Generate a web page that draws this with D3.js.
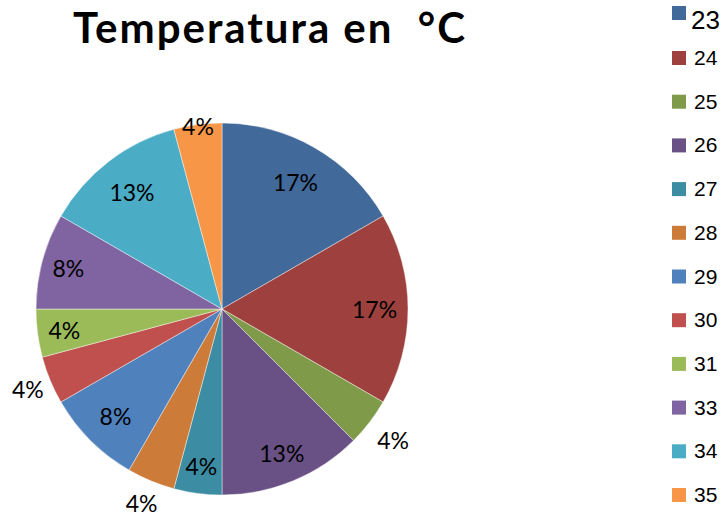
<!DOCTYPE html>
<html>
<head>
<meta charset="utf-8">
<script src="https://cdn.jsdelivr.net/npm/d3@7"></script>
<style>
  html, body { margin: 0; padding: 0; background: #fff; }
  svg { display: block; }
</style>
</head>
<body>
<svg id="chart" width="726" height="517"></svg>
<script>
// ---- data ----
const categories = ["23", "24", "25", "26", "27", "28", "29", "30", "31", "33", "34", "35"];
const counts     = [4, 4, 1, 3, 1, 1, 2, 1, 1, 2, 3, 1];
const colors     = ["#416A9B", "#9E413E", "#7F9A48", "#695185", "#3C8DA3", "#CC7B38",
                    "#4F81BD", "#C0504D", "#9BBB59", "#8064A2", "#4BACC6", "#F79646"];
const titleText  = "Temperatura en \u00A0°C";

// ---- layout (label distance from centre, as a fraction of radius) ----
const labelRadius = [0.79, 0.82, 1.16, 0.84, 0.85, 1.13, 0.81, 1.13, 0.855, 0.855, 0.795, 0.99];

const svg = d3.select("#chart");
const cx = 222, cy = 309, r = 186;

const total = d3.sum(counts);
const pie = d3.pie().sort(null).value(d => d)(counts);
const arc = d3.arc().innerRadius(0).outerRadius(r);

const g = svg.append("g").attr("transform", `translate(${cx},${cy})`);
g.selectAll("path.slice")
  .data(pie)
  .join("path")
  .attr("class", "slice")
  .attr("d", arc)
  .attr("fill", (d, i) => colors[i])
  .attr("stroke", "#ffffff")
  .attr("stroke-width", 0.6)
  .attr("stroke-opacity", 0.7);

g.selectAll("text.lbl")
  .data(pie)
  .join("text")
  .attr("class", "lbl")
  .attr("transform", (d, i) => {
    const a = (d.startAngle + d.endAngle) / 2;
    const rr = r * labelRadius[i];
    return `translate(${rr * Math.sin(a)},${-rr * Math.cos(a)})`;
  })
  .attr("text-anchor", "middle")
  .attr("dominant-baseline", "central")
  .attr("font-family", "Lato, 'Open Sans', sans-serif")
  .attr("font-size", 23)
  .attr("fill", "#000")
  .text(d => Math.round(d.value / total * 100) + "%");

// title
svg.append("text")
  .attr("x", 73)
  .attr("y", 43)
  .attr("font-family", "Lato, 'Open Sans', sans-serif")
  .attr("font-weight", "bold")
  .attr("font-size", 42)
  .attr("fill", "#000")
  .attr("textLength", 392)
  .attr("lengthAdjust", "spacing")
  .text(titleText);

// legend
const legY = d3.scaleLinear().domain([1, categories.length - 1]).range([65, 502]);
const leg = svg.append("g");
categories.forEach((c, i) => {
  const base = i === 0 ? 29 : legY(i);
  leg.append("rect")
    .attr("x", 672)
    .attr("y", i === 0 ? 6 : base - 14)
    .attr("width", 14)
    .attr("height", 14)
    .attr("fill", colors[i]);
  leg.append("text")
    .attr("x", i === 0 ? 691 : 694)
    .attr("y", base)
    .attr("font-family", "'Liberation Sans', Arial, sans-serif")
    .attr("font-size", i === 0 ? 26 : 21)
    .attr("fill", "#000")
    .text(c);
});
</script>
</body>
</html>
